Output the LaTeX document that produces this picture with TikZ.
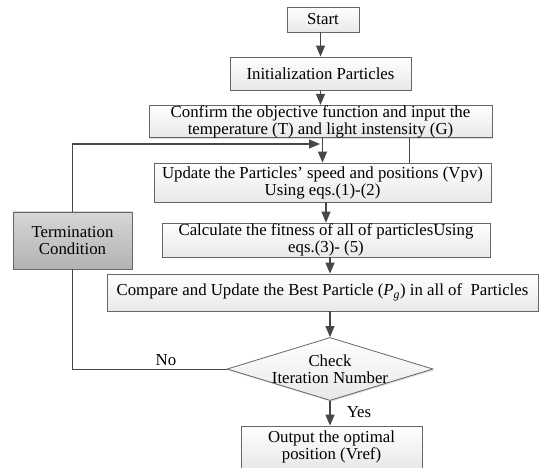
\documentclass[tikz,border=0pt]{standalone}
\usepackage{fontspec}
\setmainfont{Liberation Serif}
\usetikzlibrary{arrows.meta,shapes.geometric,shadows}

\begin{document}
\begin{tikzpicture}[x=1pt,y=-1pt,
  font=\fontsize{16.8}{17}\selectfont,
  box/.style={draw=black!60, line width=0.8pt, top color=white, bottom color=black!9,
    drop shadow={shadow xshift=1.2pt, shadow yshift=-1.2pt, opacity=0.3},
    align=center, inner sep=0pt},
  graybox/.style={box, top color=black!16, bottom color=black!30},
  check/.style={box, shape=diamond, minimum width=206, minimum height=63},
  flow/.style={draw=black!72, line width=1.1pt, -{Triangle[length=11pt,width=9pt]}},
  link/.style={draw=black!72, line width=1pt}]

\useasboundingbox (0,0) rectangle (539,468);

\node[box, minimum width=72, minimum height=25] (start) at (323,19.5) {Start};

\node[box, minimum width=181, minimum height=33] (init) at (320.5,73.5) {Initialization Particles};

\node[box, minimum width=343, minimum height=31] (conf) at (320.5,121.5)
  {Confirm the objective function and input the\\temperature (T) and light instensity (G)};

\node[box, minimum width=337, minimum height=39] (upd) at (322.5,182.5)
  {Update the Particles' speed and positions (Vpv)\\Using eqs.(1)-(2)};

\node[box, minimum width=328, minimum height=34] (fit) at (326,240)
  {Calculate the fitness of all of particlesUsing\\eqs.(3)- (5)};

\node[graybox, minimum width=119, minimum height=57] (term) at (72.5,240.5) {Termination\\Condition};

\node[box, minimum width=431, minimum height=37] (cmp) at (322.5,292.5)
  {Compare and Update the Best Particle (\textit{P}\textsubscript{\textit{g}}) in all of~ Particles};

\node[check, label={[align=center]center:Check\\Iteration Number}] (chk) at (330,369) {};

\node[box, minimum width=181, minimum height=42] (out) at (331.5,447) {Output the optimal\\position (Vref)};

\node (no) at (166,360) {No};
\node (yes) at (359,412) {Yes};

\coordinate (jn) at (320,144);
\coordinate (rl) at (409,0);

\draw[flow] (start.south -| init) -- (init);
\draw[flow] (init) -- (conf);
\draw[flow] (conf.south -| upd) -- (upd);
\draw[link] (conf.south -| rl) -- (upd.north -| rl);
\draw[flow] (upd.south -| fit) -- (fit);
\draw[flow] (fit.south -| chk) -- (chk |- cmp.north);
\draw[flow] (cmp.south -| chk) -- (chk);
\draw[flow] (chk) -- (chk |- out.north);
\draw[link] (chk.west) -| (term.south);
\draw[flow] (term.north) -- (term.north |- jn) -- (jn);

\end{tikzpicture}
\end{document}
